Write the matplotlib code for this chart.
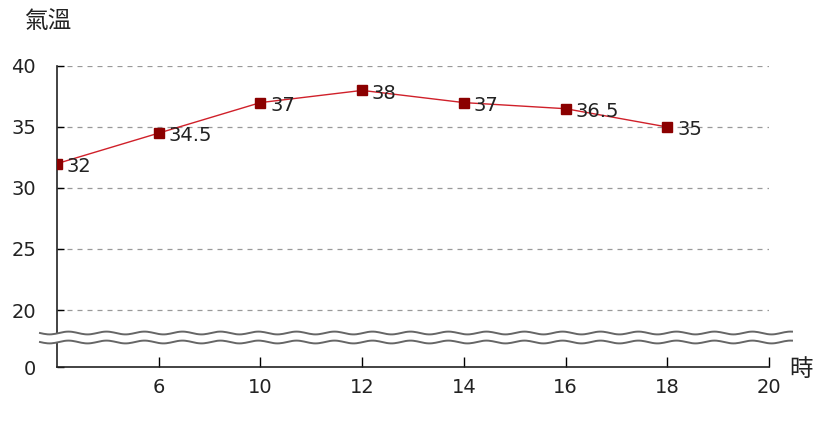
import matplotlib
matplotlib.use("Agg")
import matplotlib.pyplot as plt
import numpy as np

# data
hours = ["", "6", "10", "12", "14", "16", "18", "20"]
temps = [32, 34.5, 37, 38, 37, 36.5, 35]
temp_labels = ["32", "34.5", "37", "38", "37", "36.5", "35"]
ytick_vals = [20, 25, 30, 35, 40]
ytick_labels = ["20", "25", "30", "35", "40"]
zero_label = "0"
ylabel = "氣溫"
xlabel = "時"

plt.rcParams['font.family'] = ['DejaVu Sans', 'Noto Sans CJK TC']

W, H = 819, 423
fig = plt.figure(figsize=(W / 100, H / 100), dpi=100)
ax = fig.add_axes([57 / W, (H - 367) / H, (769 - 57) / W, (367 - 66) / H])

y_zero_pos = 20 - 57 / 12.2  # display position of broken-axis "0"
ax.set_ylim(y_zero_pos, 40)
ax.set_xlim(0, len(hours) - 1)

# grid
for v in ytick_vals:
    ax.axhline(v, color="#999999", lw=0.9, ls=(0, (4, 4)), zorder=1)

x = np.arange(len(temps))
ax.plot(x, temps, color="#d0202a", lw=1.0, zorder=3)
ax.plot(x, temps, ls="none", marker="s", ms=6.5, color="#8b0000", zorder=4)
for xi, yi, lab in zip(x, temps, temp_labels):
    ax.annotate(lab, (xi, yi), xytext=(7, -2), textcoords="offset points",
                ha="left", va="center", fontsize=14, color="#222222", zorder=5)

ax.set_yticks([y_zero_pos] + ytick_vals)
ax.set_yticklabels([zero_label] + ytick_labels, fontsize=14, color="#222222")
ax.set_xticks(np.arange(1, len(hours)))
ax.set_xticklabels(hours[1:], fontsize=14, color="#222222")
ax.tick_params(axis="y", direction="in", length=5, width=1, pad=15)
ax.tick_params(axis="x", direction="in", length=7, width=1, pad=8)

for s in ["top", "right"]:
    ax.spines[s].set_visible(False)
for s in ["left", "bottom"]:
    ax.spines[s].set_linewidth(1.2)
    ax.spines[s].set_color("#222222")

# axis break (wavy lines) in figure pixel coords
xs = np.linspace(40, 792, 400)
wave = 1.4 * np.sin(2 * np.pi * (xs - 40) / 38.0)
y1 = H - (333 + wave)
y2 = H - (342 + wave)
fig.patches.append(plt.Polygon(np.column_stack([np.r_[xs, xs[::-1]] / W,
                                                np.r_[y1, y2[::-1]] / H]),
                               closed=True, transform=fig.transFigure,
                               facecolor="white", edgecolor="none", zorder=10))
fig.lines.append(plt.Line2D(xs / W, y1 / H, transform=fig.transFigure,
                            color="#666666", lw=1.4, zorder=11))
fig.lines.append(plt.Line2D(xs / W, y2 / H, transform=fig.transFigure,
                            color="#666666", lw=1.4, zorder=11))

fig.text(24 / W, 1 - 22 / H, ylabel, fontsize=17, family=['Noto Sans CJK TC'],
         ha="left", va="center", color="#222222")
fig.text(789 / W, 1 - 369 / H, xlabel, fontsize=17, family=['Noto Sans CJK TC'],
         ha="left", va="center", color="#222222")

fig.savefig("out.png", dpi=100, facecolor="white")
